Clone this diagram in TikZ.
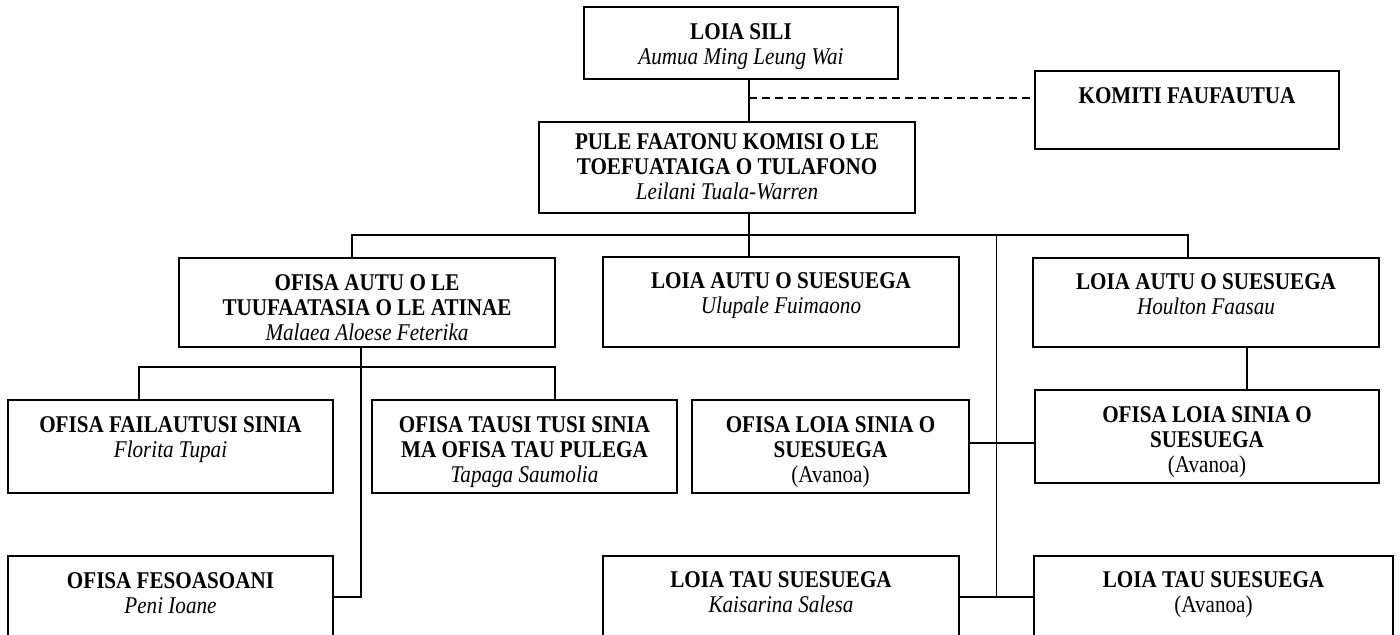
\documentclass[tikz,border=0pt]{standalone}
\usepackage{fontspec}
\setmainfont{Liberation Serif}[FakeStretch=0.88]
\usetikzlibrary{calc,positioning}

\begin{document}
\begin{tikzpicture}[x=0.5pt, y=-0.5pt,
    box/.style={draw, line width=1pt, inner sep=0pt},
    txt/.style={anchor=north, inner sep=0pt, align=center, font=\fontsize{12}{12.5}\selectfont},
    link/.style={line width=0.9pt},
    thin link/.style={line width=0.5pt}]
  \path[use as bounding box, clip] (0,0) rectangle (1400,634);

  % Top level
  \node[box, minimum width=157pt, minimum height=36pt] (sili) at (741,43) {};
  \node[txt, below=8.5pt of sili.north] (siliT) {\textbf{LOIA SILI}\\\textit{Aumua Ming Leung Wai}};
  \node[box, minimum width=152pt, minimum height=39pt] (komiti) at (1187,110) {};
  \node[txt, below=8.5pt of komiti.north] (komitiT) {\textbf{KOMITI FAUFAUTUA}};
  \node[box, minimum width=188pt, minimum height=45.5pt] (pule) at (727,167.5) {};
  \node[txt, below=6pt of pule.north] (puleT) {\textbf{PULE FAATONU KOMISI O LE}\\\textbf{TOEFUATAIGA O TULAFONO}\\\textit{Leilani Tuala-Warren}};

  % Second level
  \node[box, minimum width=188pt, minimum height=44.5pt] (atinae) at (367,302.5) {};
  \node[txt, below=8.5pt of atinae.north] (atinaeT) {\textbf{OFISA AUTU O LE}\\\textbf{TUUFAATASIA O LE ATINAE}\\\textit{Malaea Aloese Feterika}};
  \node[box, minimum width=178pt, minimum height=45pt] (suesuegaA) at (781,302) {};
  \node[txt, below=8pt of suesuegaA.north] (suesuegaAT) {\textbf{LOIA AUTU O SUESUEGA}\\\textit{Ulupale Fuimaono}};
  \node[box, minimum width=173pt, minimum height=44.5pt] (suesuegaB) at (1206,302.5) {};
  \node[txt, below=8pt of suesuegaB.north] (suesuegaBT) {\textbf{LOIA AUTU O SUESUEGA}\\\textit{Houlton Faasau}};

  % Third level
  \node[box, minimum width=162.5pt, minimum height=46.5pt] (failautusi) at (170.5,446.5) {};
  \node[txt, below=8.5pt of failautusi.north] (failautusiT) {\textbf{OFISA FAILAUTUSI SINIA}\\\textit{Florita Tupai}};
  \node[box, minimum width=152.5pt, minimum height=46.5pt] (tausi) at (524.5,446.5) {};
  \node[txt, below=8.5pt of tausi.north] (tausiT) {\textbf{OFISA TAUSI TUSI SINIA}\\\textbf{MA OFISA TAU PULEGA}\\\textit{Tapaga Saumolia}};
  \node[box, minimum width=138.5pt, minimum height=46.5pt] (sinA) at (830.5,446.5) {};
  \node[txt, below=8.5pt of sinA.north] (sinAT) {\textbf{OFISA LOIA SINIA O}\\\textbf{SUESUEGA}\\(Avanoa)};
  \node[box, minimum width=172pt, minimum height=46.5pt] (sinB) at (1207,436.5) {};
  \node[txt, below=8.5pt of sinB.north] (sinBT) {\textbf{OFISA LOIA SINIA O}\\\textbf{SUESUEGA}\\(Avanoa)};

  % Bottom level
  \node[box, minimum width=162.5pt, minimum height=41pt] (fesoasoani) at (170.5,597) {};
  \node[txt, below=8.5pt of fesoasoani.north] (fesoasoaniT) {\textbf{OFISA FESOASOANI}\\\textit{Peni Ioane}};
  \node[box, minimum width=178pt, minimum height=41pt] (tauA) at (781,597) {};
  \node[txt, below=8pt of tauA.north] (tauAT) {\textbf{LOIA TAU SUESUEGA}\\\textit{Kaisarina Salesa}};
  \node[box, minimum width=179.5pt, minimum height=41pt] (tauB) at (1213.5,597) {};
  \node[txt, below=8pt of tauB.north] (tauBT) {\textbf{LOIA TAU SUESUEGA}\\(Avanoa)};

  % Links from the top
  \coordinate (spine) at ([xshift=4pt]sili.south);
  \draw[link] (spine) -- (spine |- pule.north);
  \coordinate (adv) at ($(spine)!0.45!(spine |- pule.north)$);
  \draw[line width=1pt, dash pattern=on 4pt off 2.5pt] (adv) -- (adv -| komiti.west);
  \coordinate (bus) at ($(spine |- pule.south)!0.5!(spine |- suesuegaA.north)$);
  \draw[link] (spine |- pule.south) -- (spine |- suesuegaA.north);
  \draw[link] ([xshift=-7.5pt]atinae.north) |- (bus) -| ([xshift=-9pt]suesuegaB.north);

  % Right side
  \coordinate (riser) at ($(tauA.east)!0.5!(tauB.west)$);
  \draw[thin link] (riser |- bus) -- (riser);
  \draw[link] (tauA.east) -- (tauB.west);
  \draw[link] ([yshift=1.75pt]sinA.east) -- ([yshift=1.75pt]sinA.east -| sinB.west);
  \draw[link] ([xshift=20.5pt]suesuegaB.south) -- ([xshift=20.5pt]suesuegaB.south |- sinB.north);

  % Left side
  \coordinate (subbus) at ($([xshift=-3pt]atinae.south)!0.38!([xshift=-3pt]atinae.south |- tausi.north)$);
  \draw[link] ([xshift=-3pt]atinae.south) |- (fesoasoani.east);
  \draw[link] ([xshift=-15.75pt]failautusi.north) |- (subbus) -| ([xshift=15.25pt]tausi.north);
\end{tikzpicture}
\end{document}
